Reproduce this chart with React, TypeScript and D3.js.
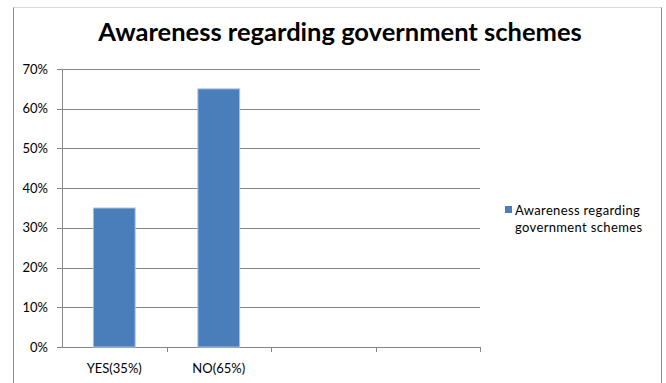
import React from "react";
import * as d3 from "d3";

const categories = ["YES(35%)", "NO(65%)", "", " "];
const values = [0.35, 0.65, null, null];
const yTicks = [0, 0.1, 0.2, 0.3, 0.4, 0.5, 0.6, 0.7];
const title = "Awareness regarding government schemes";
const legendLines = ["Awareness regarding", "government schemes"];

const W = 666;
const H = 383;
const left = 62;
const right = 480;
const top = 69;
const bottom = 347;

export default function App() {
  const x = d3.scaleBand<string>().domain(categories).range([left, right]).paddingInner(0.6).paddingOuter(0.3);
  const xb = d3.scaleBand<string>().domain(categories).range([left, right]);
  const y = d3.scaleLinear().domain([0, 0.7]).range([bottom, top]);
  const fmt = d3.format(".0%");
  const font = "Lato, 'Open Sans', sans-serif";
  return (
    <svg width={W} height={H} style={{ position: "absolute", left: 0, top: 0, background: "#fff" }}>
      <rect x={13.5} y={7.5} width={648} height={390} fill="#fff" stroke="#d9d9d9" />
      <line x1={13.5} x2={13.5} y1={7.5} y2={H} stroke="#8c8c8c" />
      <line x1={661.5} x2={661.5} y1={7.5} y2={H} stroke="#8c8c8c" />
      <text x={340} y={41} textAnchor="middle" fontFamily={font} fontWeight="bold" fontSize={25.5} fill="#000">
        {title}
      </text>
      {yTicks.map((t) => (
        <g key={t}>
          <line x1={left - 5} x2={right} y1={Math.round(y(t)) + 0.5} y2={Math.round(y(t)) + 0.5} stroke="#868686" strokeWidth={1} />
          <text x={48} y={y(t) + 4.5} textAnchor="end" fontFamily={font} fontSize={13} fill="#000">
            {fmt(t)}
          </text>
        </g>
      ))}
      <line x1={left + 0.5} x2={left + 0.5} y1={top} y2={bottom} stroke="#868686" />
      {categories.map((c) => (
        <line key={"t" + c} x1={Math.round(xb(c)! + xb.bandwidth()) + 0.5} x2={Math.round(xb(c)! + xb.bandwidth()) + 0.5} y1={bottom} y2={bottom + 5} stroke="#868686" />
      ))}
      {categories.map((c, i) =>
        values[i] != null ? (
          <rect key={"b" + c} x={x(c)!} y={y(values[i] as number)} width={x.bandwidth()} height={bottom - y(values[i] as number)} fill="#4a7ebb" stroke="#a9c4e6" strokeWidth={1} />
        ) : null
      )}
      {categories.map((c) => (
        <text key={"l" + c} x={xb(c)! + xb.bandwidth() / 2} y={373} textAnchor="middle" fontFamily={font} fontSize={13} fill="#000">
          {c.trim()}
        </text>
      ))}
      <rect x={505} y={206} width={7} height={7} fill="#4a7ebb" />
      {legendLines.map((l, i) => (
        <text key={l} x={515} y={214.5 + i * 17.5} fontFamily={font} fontSize={13} letterSpacing={0.35} fill="#000">
          {l}
        </text>
      ))}
    </svg>
  );
}
